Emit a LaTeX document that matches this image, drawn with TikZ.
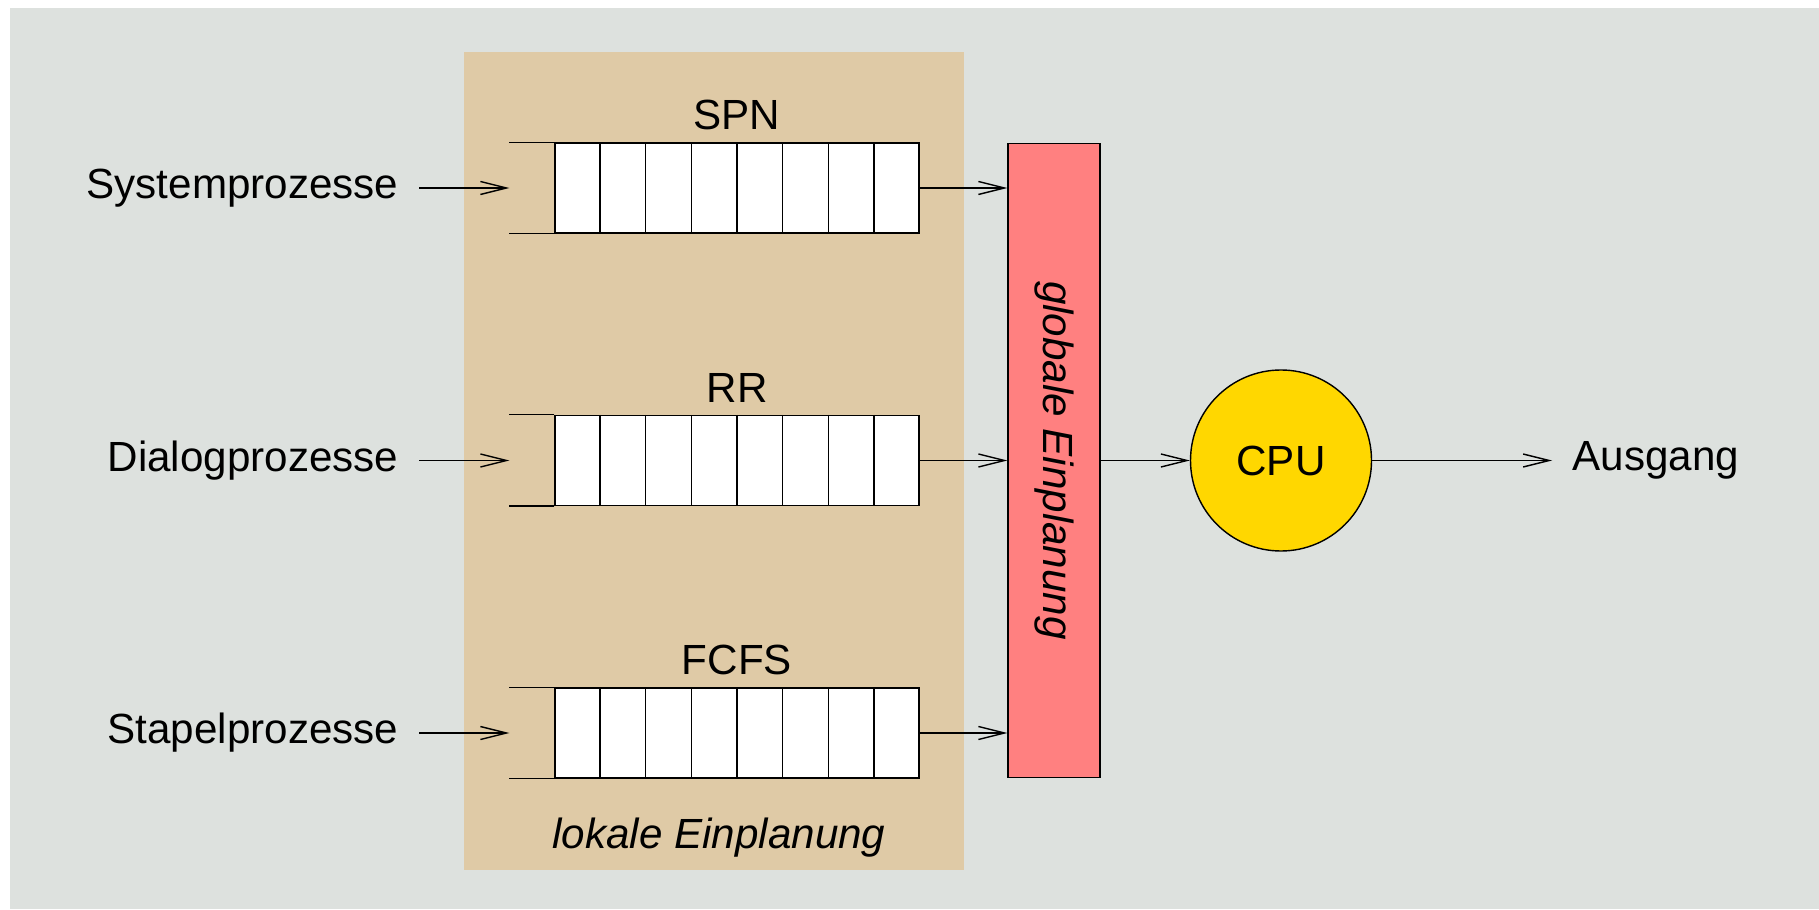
\documentclass[tikz,border=0pt]{standalone}
\usepackage{fontspec}
\setmainfont{Liberation Sans}
\usepackage{tikz}
\usetikzlibrary{positioning}
\usetikzlibrary{%
  calc,%
  arrows.meta%
}
\definecolor{slidegrey}{RGB}{221,225,222}
\definecolor{localtan}{RGB}{223,202,166}
\definecolor{globalred}{RGB}{255,128,128}
\definecolor{cpugold}{RGB}{255,215,0}
\newcommand{\cellsof}[1]{%
  \foreach \i in {1,...,7}
    \draw ($(#1.north west)!\i/8!(#1.north east)$) -- ($(#1.south west)!\i/8!(#1.south east)$);
  \draw (#1.north west) -- ++(-0.45,0);
  \draw (#1.south west) -- ++(-0.45,0);
}

\begin{document}
\begin{tikzpicture}[every node/.style={font=\fontsize{12}{14}\selectfont},
		>={Straight Barb[length=2.6mm,width=1.3mm]},
		queue/.style={draw,fill=white,minimum width=3.64cm,minimum height=0.9cm,inner sep=0pt},
		proc/.style={anchor=east,inner sep=2mm}]
		\useasboundingbox (0,0) rectangle (18.19,9.09);
		\fill[slidegrey] (0.096,0) rectangle (18.19,9.013);
		\fill[localtan] (4.64,0.39) rectangle (9.64,8.57);
		%
		\node[queue] (q0) at (7.37,7.21) {};
		\node[queue] (q1) at (7.37,4.485) {};
		\node[queue] (q2) at (7.37,1.76) {};
		\cellsof{q0}
		\cellsof{q1}
		\cellsof{q2}
		\coordinate[left=0.45cm of q0] (m0);
		\coordinate[left=0.45cm of q1] (m1);
		\coordinate[left=0.45cm of q2] (m2);
		\node[above=0pt of q0] (l0) {SPN};
		\node[above=0pt of q1] (l1) {RR};
		\node[above=0pt of q2] (l2) {FCFS};
		\node (loc) at (7.19,0.71) {\itshape lokale Einplanung};
		%
		\node[proc] (in0) at (4.19,7.21) {Systemprozesse};
		\node[proc] (in1) at (4.19,4.485) {Dialogprozesse};
		\node[proc] (in2) at (4.19,1.76) {Stapelprozesse};
		%
		\node[draw,fill=globalred,minimum width=0.92cm,minimum height=6.34cm] (bar) at (10.54,4.485) {};
		\node[rotate=-90] (glob) at (bar.center) {\itshape globale Einplanung};
		\node[draw,circle,fill=cpugold,minimum size=1.81cm,inner sep=0pt] (cpu) at (12.81,4.485) {CPU};
		\node[anchor=west,inner sep=2mm] (out) at (15.52,4.485) {Ausgang};
		%
		\draw[->]
			%Inputs
			(in0) edge (m0)
			(in1) edge (m1)
			(in2) edge (m2)
			
			%To global scheduling
			(q0) edge (q0.east -| bar.west)
			(q1) edge (q1.east -| bar.west)
			(q2) edge (q2.east -| bar.west)
			
			(bar) edge (cpu)
			(cpu) edge (out)
		;
		
	\end{tikzpicture}
\end{document}
